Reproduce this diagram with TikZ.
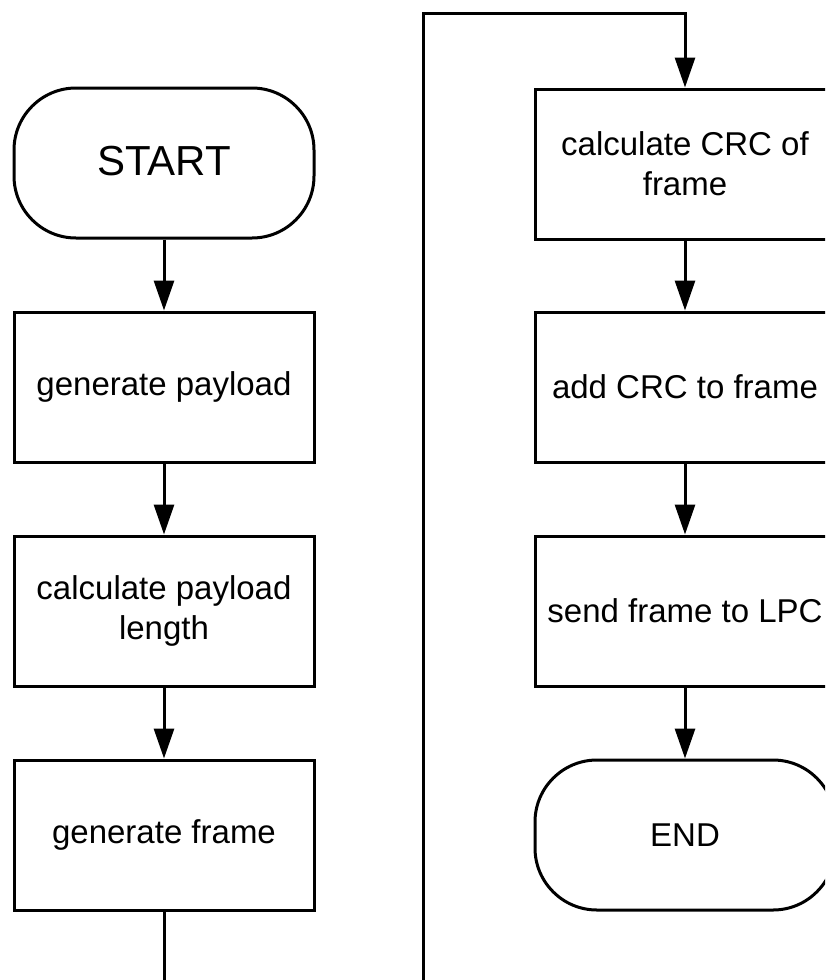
\documentclass[tikz,border=0pt]{standalone}
\usepackage{fontspec}
\setmainfont{Liberation Sans}
\usetikzlibrary{arrows.meta}
\begin{document}
\begin{tikzpicture}[x=0.5pt,y=-0.5pt,
  box/.style={draw, line width=1.5pt, minimum width=150pt, minimum height=75pt, inner sep=0pt, align=center, font=\fontsize{16.5}{20}\selectfont},
  term/.style={box, rounded corners=31pt},
  arr/.style={line width=1.5pt, -{Triangle[length=15pt,width=10pt]}},
  ln/.style={line width=1.5pt}]
\useasboundingbox (0,0) rectangle (825,980);
\clip (0,0) rectangle (825,980);
\node[term, font=\fontsize{21}{25}\selectfont] (start) at (164,163) {\raisebox{2pt}{START}};
\node[box] (gp) at (164,387) {generate payload};
\node[box] (cpl) at (164,611) {calculate payload\\length};
\node[box] (gf) at (164,835) {generate frame};
\node[box] (crc) at (685,164) {calculate CRC of\\frame};
\node[box] (add) at (685,387) {add CRC to frame};
\node[box] (send) at (685,611) {send frame to LPC};
\node[term] (end) at (685,835) {END};
\coordinate (lb) at (164,1040);
\coordinate (rb) at (423,1040);
\coordinate (rt) at (423,13);
\draw[arr] (start) -- (gp);
\draw[arr] (gp) -- (cpl);
\draw[arr] (cpl) -- (gf);
\draw[arr] (gf.south) -- (lb) -- (rb) -- (rt) -| (crc.north);
\draw[arr] (crc) -- (add);
\draw[arr] (add) -- (send);
\draw[arr] (send) -- (end);
\end{tikzpicture}
\end{document}
